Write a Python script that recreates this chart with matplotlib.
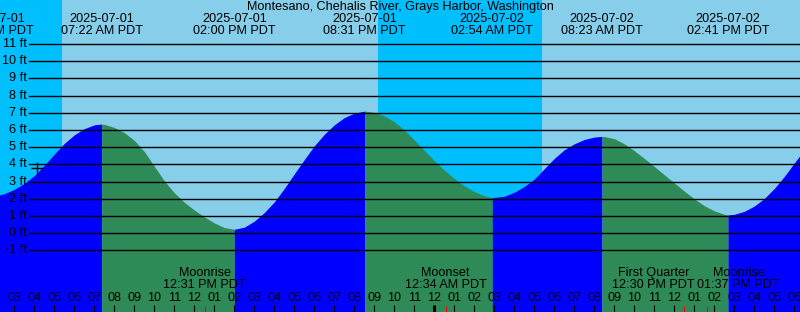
import matplotlib
matplotlib.use("Agg")
import matplotlib.pyplot as plt
import matplotlib.transforms as mtransforms
import numpy as np

plt.rcParams['font.family'] = ['Liberation Sans', 'DejaVu Sans']

STATION = "Montesano, Chehalis River, Grays Harbor, Washington"

# time axis: hours after 2025-07-01 00:00 PDT, heights (ft)
tide_hours = [2, 2.5, 3, 3.5, 4, 4.5, 5, 5.5, 6, 6.5, 7, 7.367,
              7.5, 8, 8.5, 9, 9.5, 10, 10.5, 11, 11.5, 12, 12.5, 13, 13.5, 14.0,
              14.5, 15, 15.5, 16, 16.5, 17, 17.5, 18, 18.5, 19, 19.5, 20, 20.517,
              21, 21.5, 22, 22.5, 23, 23.5, 24, 24.5, 25, 25.5, 26, 26.5, 26.9,
              27.5, 28, 28.5, 29, 29.5, 30, 30.5, 31, 31.5, 32, 32.383,
              32.5, 33, 33.5, 34, 34.5, 35, 35.5, 36, 36.5, 37, 37.5, 38, 38.5, 38.683,
              39, 39.5, 40, 40.5, 41, 41.5, 42, 42.5, 43]
tide_ft = [2.15, 2.3, 2.55, 2.9, 3.35, 3.95, 4.6, 5.22, 5.72, 6.08, 6.3, 6.35,
           6.33, 6.15, 5.85, 5.4, 4.75, 3.9, 3.05, 2.35, 1.8, 1.35, 0.95, 0.6, 0.33, 0.23,
           0.35, 0.7, 1.2, 1.82, 2.6, 3.45, 4.28, 5.08, 5.75, 6.3, 6.72, 6.98, 7.1,
           7.03, 6.82, 6.48, 6.0, 5.42, 4.82, 4.22, 3.67, 3.18, 2.75, 2.42, 2.18, 2.07,
           2.15, 2.38, 2.72, 3.15, 3.75, 4.35, 4.85, 5.2, 5.45, 5.59, 5.63,
           5.62, 5.5, 5.2, 4.8, 4.35, 3.88, 3.4, 2.92, 2.45, 2.0, 1.6, 1.3, 1.1, 1.06,
           1.1, 1.27, 1.58, 2.02, 2.6, 3.3, 4.08, 4.85, 5.5]

# high / low tides
ext_hours = [1.93, 7.367, 14.0, 20.517, 26.9, 32.383, 38.683]
ext_ft = [2.1, 6.35, 0.23, 7.1, 2.07, 5.63, 1.06]
ext_dates = ["2025-07-01", "2025-07-01", "2025-07-01", "2025-07-01",
             "2025-07-02", "2025-07-02", "2025-07-02"]
ext_times = ["01:56 AM PDT", "07:22 AM PDT", "02:00 PM PDT", "08:31 PM PDT",
             "02:54 AM PDT", "08:23 AM PDT", "02:41 PM PDT"]

sunrise = [5.383, 29.383]
sunset = [21.183, 45.2]

moon_hours = [12.517, 24.567, 36.5, 37.617]
moon_names = ["Moonrise", "Moonset", "First Quarter", "Moonrise"]
moon_times = ["12:31 PM PDT", "12:34 AM PDT", "12:30 PM PDT", "01:37 PM PDT"]
moon_shift = [0, 0, -31, 32]   # px, labels pushed apart when they collide

now_hour, now_ft = 4.135, 3.8

DAY = '#87CEEB'
NIGHT = '#00BFFF'
RISE = '#0000FF'
FALL = '#2E8B57'
FS = 9.1

W, H = 800, 312
fig = plt.figure(figsize=(W / 100, H / 100), dpi=100)
ax = fig.add_axes([0, 0, 1, 1])
x0, x1 = 2.285, 42.285
y0, y1 = -4.58, 13.56
ax.set_xlim(x0, x1)
ax.set_ylim(y0, y1)
ax.axis('off')

# day / night background
ax.axvspan(x0, x1, color=DAY, lw=0, zorder=0)
ax.axvspan(x0 - 5, sunrise[0], color=NIGHT, lw=0, zorder=0)
ax.axvspan(sunset[0], sunrise[1], color=NIGHT, lw=0, zorder=0)

# tide curve: blue while rising, green while falling
t = np.array(tide_hours)
h = np.array(tide_ft)
for i in range(len(ext_hours)):
    a = ext_hours[i]
    b = ext_hours[i + 1] if i + 1 < len(ext_hours) else 99
    if i + 1 < len(ext_hours):
        rising = ext_ft[i + 1] > ext_ft[i]
    else:
        rising = ext_ft[i] < ext_ft[i - 1]
    m = (t >= a) & (t <= b)
    ax.fill_between(t, h, y0, where=m, color=RISE if rising else FALL,
                    lw=0, zorder=1)

# depth grid
xt = mtransforms.blended_transform_factory(ax.transAxes, ax.transData)
for ft in range(-1, 12):
    ax.axhline(ft, xmin=29 / W, xmax=1, color='black', lw=1.0, zorder=2)
    ax.text(27 / W, ft, f"{ft} ft", transform=xt, ha='right', va='center',
            fontsize=FS, color='black', zorder=3)

ax.plot(now_hour, now_ft, marker='+', color='black', markersize=9,
        markeredgewidth=1, zorder=3)

# title and tide labels
ax.text(0.5, 1 - 7 / H, STATION, transform=ax.transAxes, ha='center',
        va='center', fontsize=FS)
tx = mtransforms.blended_transform_factory(ax.transData, ax.transAxes)
for hr, d, tm in zip(ext_hours, ext_dates, ext_times):
    ax.text(hr, 1 - 19 / H, d, transform=tx, ha='center', va='center', fontsize=FS)
    ax.text(hr, 1 - 31 / H, tm, transform=tx, ha='center', va='center', fontsize=FS)

# hour ticks along the bottom
for hr in range(3, 43):
    lab = f"{(hr - 1) % 12 + 1:02d}"
    ax.text(hr, 14 / H, lab, transform=tx, ha='center', va='center', fontsize=FS)
    lw = 2.2 if hr % 24 == 0 else 0.8
    ax.vlines(hr, 0, 7 / H, transform=tx, color='black', lw=lw, zorder=3)

# moon events
for hr, name, tm, dx in zip(moon_hours, moon_names, moon_times, moon_shift):
    ax.vlines(hr, 0, 6 / H, transform=tx, color='red', lw=0.8, zorder=3)
    ax.annotate(name, (hr, 39 / H), xycoords=tx, xytext=(dx * 0.72, 0),
                textcoords='offset points', ha='center', va='center', fontsize=FS)
    ax.annotate(tm, (hr, 27 / H), xycoords=tx, xytext=(dx * 0.72, 0),
                textcoords='offset points', ha='center', va='center', fontsize=FS)

fig.savefig("out.png", dpi=100)
